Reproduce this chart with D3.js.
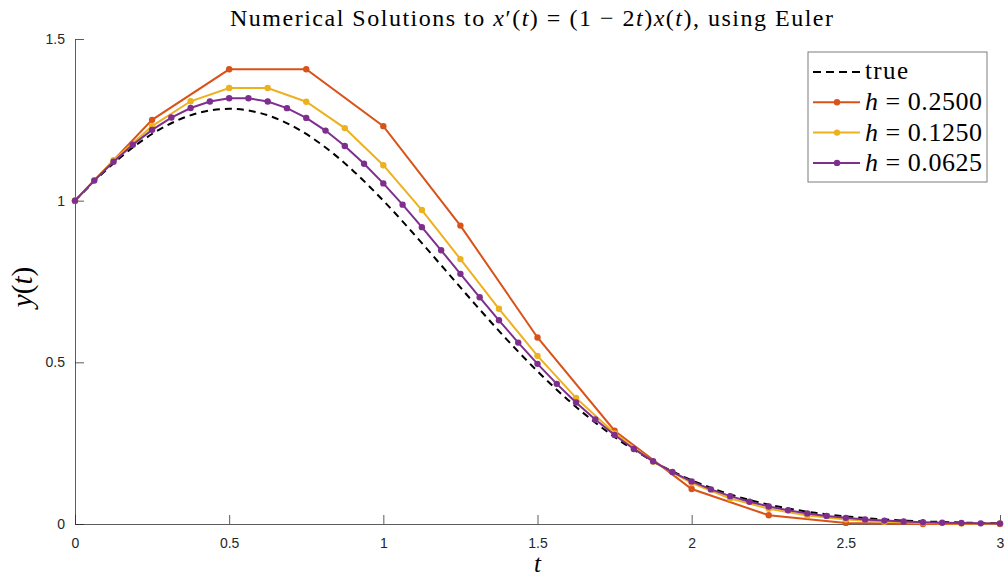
<!DOCTYPE html>
<html>
<head>
<meta charset="utf-8">
<script src="https://cdn.jsdelivr.net/npm/d3@7"></script>
<style>
  body { margin: 0; background: #fff; }
  svg { display: block; }
</style>
</head>
<body>
<div id="chart"></div>
<script>
// Euler values
var tH1 = [0, 0.25, 0.5, 0.75, 1, 1.25, 1.5, 1.75, 2, 2.25, 2.5, 2.75, 3];
var yH1 = [1, 1.25, 1.40625, 1.40625, 1.23047, 0.92285, 0.57678, 0.28839, 0.10815, 0.02704, 0.00338, 0, 0];

var tH2 = [0, 0.125, 0.25, 0.375, 0.5, 0.625, 0.75, 0.875, 1, 1.125, 1.25, 1.375, 1.5,
    1.625, 1.75, 1.875, 2, 2.125, 2.25, 2.375, 2.5, 2.625, 2.75, 2.875, 3];
var yH2 = [1, 1.125, 1.23047, 1.30737, 1.34823, 1.34823, 1.30610, 1.22447, 1.10968, 0.97097,
    0.81925, 0.66564, 0.52003, 0.39002, 0.28033, 0.19273, 0.12648, 0.07905, 0.04694, 0.02640,
    0.01403, 0.00701, 0.00329, 0.00144, 0.00058];

var tH3 = [0, 0.0625, 0.125, 0.1875, 0.25, 0.3125, 0.375, 0.4375, 0.5, 0.5625, 0.625, 0.6875,
    0.75, 0.8125, 0.875, 0.9375, 1, 1.0625, 1.125, 1.1875, 1.25, 1.3125, 1.375, 1.4375, 1.5,
    1.5625, 1.625, 1.6875, 1.75, 1.8125, 1.875, 1.9375, 2, 2.0625, 2.125, 2.1875, 2.25, 2.3125,
    2.375, 2.4375, 2.5, 2.5625, 2.625, 2.6875, 2.75, 2.8125, 2.875, 2.9375, 3];
var yH3 = [1, 1.0625, 1.12061, 1.17314, 1.21896, 1.25705, 1.28651, 1.30661, 1.31682, 1.31682,
    1.30653, 1.28612, 1.25598, 1.21673, 1.16920, 1.11439, 1.05345, 0.98761, 0.91817, 0.84644,
    0.77370, 0.70117, 0.62996, 0.56106, 0.49531, 0.43340, 0.37584, 0.32299, 0.27505, 0.23207,
    0.19400, 0.16066, 0.13179, 0.10708, 0.08617, 0.06866, 0.05418, 0.04233, 0.03274, 0.02507,
    0.01900, 0.01425, 0.01057, 0.00777, 0.00564, 0.00406, 0.00288, 0.00203, 0.00141];

// dashed "true" curve
var tTrue = [0, 0.1, 0.2, 0.3, 0.4, 0.5, 0.6, 0.7, 0.8, 0.9, 1, 1.1, 1.2, 1.3, 1.4, 1.5,
    1.6, 1.7, 1.8, 1.9, 2, 2.1, 2.2, 2.3, 2.4, 2.5, 2.6, 2.7, 2.8, 2.9, 3];
var yTrue = [1, 1.09417, 1.17351, 1.23368, 1.27125, 1.28403, 1.27125, 1.23368, 1.17351,
    1.09417, 1, 0.89583, 0.78663, 0.67706, 0.57121, 0.47237, 0.38289, 0.30422, 0.23693,
    0.18087, 0.13534, 0.09926, 0.07136, 0.05029, 0.03474, 0.02352, 0.01561, 0.01015,
    0.00647, 0.00405, 0.00248];

var xTicks = [0, 0.5, 1, 1.5, 2, 2.5, 3];
var yTicks = [0, 0.5, 1, 1.5];

var hLabels = ["0.2500", "0.1250", "0.0625"];
var colors = ["#D95319", "#EDB120", "#7E2F8E"];

var width = 1005, height = 576;
var margin = { left: 75, right: 5, top: 39, bottom: 52 };

var svg = d3.select("#chart").append("svg")
    .attr("width", width)
    .attr("height", height);

var x = d3.scaleLinear().domain([0, 3]).range([margin.left, width - margin.right]);
var y = d3.scaleLinear().domain([0, 1.5]).range([height - margin.bottom, margin.top]);

var axisColor = "#262626";
var tickFont = "'Liberation Sans', Arial, sans-serif";
var serif = "'Liberation Serif', 'Times New Roman', serif";

// axes (ticks point inward)
var xAxis = svg.append("g")
    .attr("transform", "translate(0," + y(0) + ")")
    .call(d3.axisBottom(x).tickValues(xTicks).tickFormat(d3.format("")).tickSizeInner(-9).tickSizeOuter(0).tickPadding(14));
var yAxis = svg.append("g")
    .attr("transform", "translate(" + x(0) + ",0)")
    .call(d3.axisLeft(y).tickValues(yTicks).tickFormat(d3.format("")).tickSizeInner(-9).tickSizeOuter(0).tickPadding(10));

[xAxis, yAxis].forEach(function (a) {
    a.select(".domain").attr("stroke", axisColor).attr("stroke-opacity", 0.75);
    a.selectAll(".tick line").attr("stroke", axisColor).attr("stroke-opacity", 0.75);
    a.selectAll(".tick text").attr("fill", axisColor).attr("font-family", tickFont).attr("font-size", 14);
});

// series
var line = d3.line().x(function (d) { return x(d[0]); }).y(function (d) { return y(d[1]); });
var smooth = d3.line().curve(d3.curveCatmullRom).x(function (d) { return x(d[0]); }).y(function (d) { return y(d[1]); });

svg.append("path")
    .datum(d3.zip(tTrue, yTrue))
    .attr("d", smooth)
    .attr("fill", "none")
    .attr("stroke", "#000")
    .attr("stroke-width", 2)
    .attr("stroke-dasharray", "7,5");

var series = [d3.zip(tH1, yH1), d3.zip(tH2, yH2), d3.zip(tH3, yH3)];
series.forEach(function (s, i) {
    var g = svg.append("g");
    g.append("path")
        .datum(s)
        .attr("d", line)
        .attr("fill", "none")
        .attr("stroke", colors[i])
        .attr("stroke-width", 2);
    g.selectAll("circle")
        .data(s)
        .enter().append("circle")
        .attr("cx", function (d) { return x(d[0]); })
        .attr("cy", function (d) { return y(d[1]); })
        .attr("r", 3.2)
        .attr("fill", colors[i]);
});

// title (computer-modern look is wider than Times, so stretch spacing a bit)
var title = svg.append("text")
    .attr("x", 230).attr("y", 26)
    .attr("font-family", serif)
    .attr("font-size", 24)
    .attr("textLength", 603)
    .attr("lengthAdjust", "spacing")
    .attr("fill", "#000");
title.append("tspan").text("Numerical Solutions to ");
title.append("tspan").attr("font-style", "italic").text("x");
title.append("tspan").text("\u2032(");
title.append("tspan").attr("font-style", "italic").text("t");
title.append("tspan").text(") = (1 \u2212 2");
title.append("tspan").attr("font-style", "italic").text("t");
title.append("tspan").text(")");
title.append("tspan").attr("font-style", "italic").text("x");
title.append("tspan").text("(");
title.append("tspan").attr("font-style", "italic").text("t");
title.append("tspan").text("), using Euler");

// axis labels
svg.append("text")
    .attr("x", x(1.5)).attr("y", 572)
    .attr("text-anchor", "middle")
    .attr("font-family", serif)
    .attr("font-style", "italic")
    .attr("font-size", 25)
    .text("t");

var yl = svg.append("text")
    .attr("transform", "translate(32,287) rotate(-90)")
    .attr("text-anchor", "middle")
    .attr("font-family", serif)
    .attr("font-size", 29);
yl.append("tspan").attr("font-style", "italic").text("y");
yl.append("tspan").text("(");
yl.append("tspan").attr("font-style", "italic").text("t");
yl.append("tspan").text(")");

// legend
var lg = svg.append("g").attr("transform", "translate(808,52)");
lg.append("rect")
    .attr("width", 179).attr("height", 130)
    .attr("fill", "#fff")
    .attr("stroke", "#262626")
    .attr("stroke-opacity", 0.6)
    .attr("stroke-width", 1);

var rowY = function (i) { return 20 + i * 30.3; };
lg.append("line")
    .attr("x1", 5).attr("x2", 52).attr("y1", rowY(0)).attr("y2", rowY(0))
    .attr("stroke", "#000").attr("stroke-width", 2).attr("stroke-dasharray", "8,5");
lg.append("text")
    .attr("x", 57).attr("y", rowY(0) + 7)
    .attr("font-family", serif).attr("font-size", 25)
    .attr("textLength", 43).attr("lengthAdjust", "spacing")
    .text("true");

hLabels.forEach(function (h, i) {
    var yy = rowY(i + 1);
    lg.append("line")
        .attr("x1", 5).attr("x2", 52).attr("y1", yy).attr("y2", yy)
        .attr("stroke", colors[i]).attr("stroke-width", 2);
    lg.append("circle").attr("cx", 29).attr("cy", yy).attr("r", 3.2).attr("fill", colors[i]);
    var t = lg.append("text")
        .attr("x", 57).attr("y", yy + 8)
        .attr("font-family", serif).attr("font-size", 26)
        .attr("textLength", 117).attr("lengthAdjust", "spacing");
    t.append("tspan").attr("font-style", "italic").text("h");
    t.append("tspan").text(" = " + h);
});
</script>
</body>
</html>
